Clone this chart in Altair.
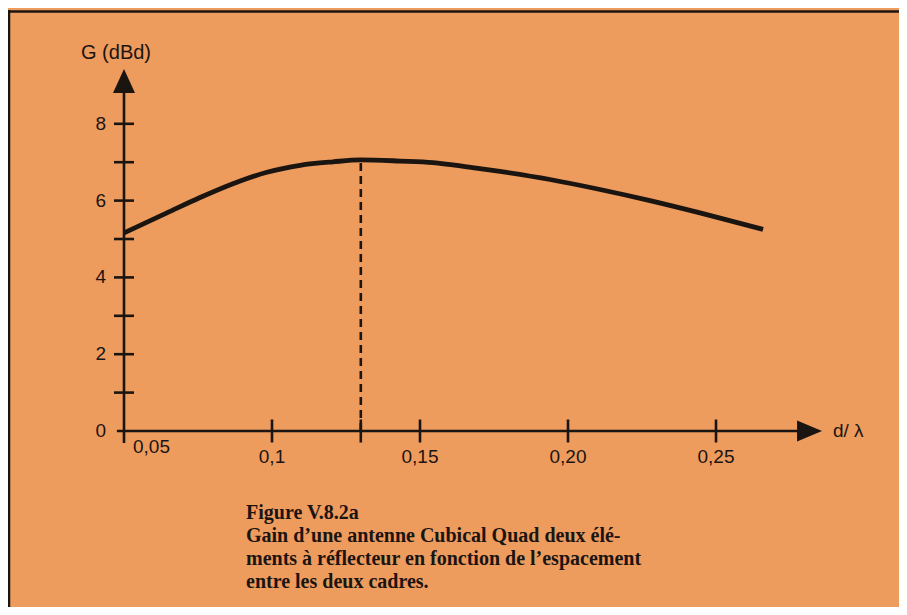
import altair as alt
import pandas as pd

# ---- data ----
curve_x = [0.05, 0.0645, 0.0757, 0.0868, 0.0983, 0.1095, 0.1206, 0.13, 0.1432,
           0.1544, 0.1659, 0.177, 0.1939, 0.2108, 0.2277, 0.2446, 0.2659]
curve_y = [5.16, 5.68, 6.08, 6.44, 6.74, 6.92, 7.01, 7.06, 7.03,
           6.99, 6.88, 6.76, 6.55, 6.29, 6.00, 5.68, 5.25]

peak_x = [0.13]
peak_y = [7.06]

x_tick_values = [0.1, 0.13, 0.15, 0.2, 0.25]
x_label_values = [0.1, 0.15, 0.2, 0.25]
x_label_texts = ["0,1", "0,15", "0,20", "0,25"]
first_x_label = ["0,05"]
y_tick_values = [1, 2, 3, 4, 5, 6, 7, 8]
y_label_values = [0, 2, 4, 6, 8]
y_label_texts = ["0", "2", "4", "6", "8"]

x_axis_span = [0.0476, 0.28]
y_axis_span = [-0.31, 9.1]
x_arrow = [0.2816]
y_arrow = [9.115]

y_title = ["G (dBd)"]
y_title_pos = [9.84]
x_title = ["d/ λ"]
x_title_pos = [0.2895]

caption = [
    "Figure V.8.2a",
    "Gain d\u2019une antenne Cubical Quad deux élé-",
    "ments à réflecteur en fonction de l\u2019espacement",
    "entre les deux cadres.",
]

# ---- styling ----
INK = "#1b1511"
BG = "#EE9B5E"
SANS = "Liberation Sans"
SERIF = "Liberation Serif"

xs = alt.Scale(domain=[0.05, 0.31182], nice=False, zero=False)
ys = alt.Scale(domain=[0, 10.964], nice=False, zero=False)


def X(field):
    return alt.X(field, type="quantitative", scale=xs, axis=None)


def Y(field):
    return alt.Y(field, type="quantitative", scale=ys, axis=None)


curve_df = pd.DataFrame({"x": curve_x, "y": curve_y})
curve = alt.Chart(curve_df).mark_line(
    color=INK, strokeWidth=4.8, interpolate="monotone", strokeCap="butt"
).encode(x=X("x"), y=Y("y"))

dash = alt.Chart(pd.DataFrame({"x": peak_x, "y0": [0], "y1": peak_y})).mark_rule(
    color=INK, strokeWidth=2.6, strokeDash=[8, 5]
).encode(x=X("x"), y=Y("y0"), y2="y1")

xaxis = alt.Chart(pd.DataFrame({"a": [x_axis_span[0]], "b": [x_axis_span[1]], "y": [0]})).mark_rule(
    color=INK, strokeWidth=2.6
).encode(x=X("a"), x2="b", y=Y("y"))

yaxis = alt.Chart(pd.DataFrame({"x": [0.05], "a": [y_axis_span[0]], "b": [y_axis_span[1]]})).mark_rule(
    color=INK, strokeWidth=2.6
).encode(x=X("x"), y=Y("a"), y2="b")

xarrow = alt.Chart(pd.DataFrame({"x": x_arrow, "y": [0]})).mark_point(
    shape="M -1 -0.84 L 1 0 L -1 0.84 Z", filled=True, size=625, opacity=1, color=INK
).encode(x=X("x"), y=Y("y"))

yarrow = alt.Chart(pd.DataFrame({"x": [0.05], "y": y_arrow})).mark_point(
    shape="M -0.917 1 L 0 -1 L 0.917 1 Z", filled=True, size=576, opacity=1, color=INK
).encode(x=X("x"), y=Y("y"))

xticks = alt.Chart(pd.DataFrame({"x": x_tick_values, "y": [0] * len(x_tick_values)})).mark_tick(
    orient="vertical", size=23, thickness=2.6, color=INK, opacity=1
).encode(x=X("x"), y=Y("y"))

yticks = alt.Chart(pd.DataFrame({"x": [0.05] * len(y_tick_values), "y": y_tick_values})).mark_tick(
    orient="horizontal", size=20, thickness=2.6, color=INK, opacity=1
).encode(x=X("x"), y=Y("y"))

xlabels = alt.Chart(pd.DataFrame({"x": x_label_values, "y": [0] * 4, "t": x_label_texts})).mark_text(
    font=SANS, fontSize=19, color=INK, align="center", baseline="middle", dy=26
).encode(x=X("x"), y=Y("y"), text="t:N")

xlabel0 = alt.Chart(pd.DataFrame({"x": [0.05], "y": [0], "t": first_x_label})).mark_text(
    font=SANS, fontSize=19, color=INK, align="left", baseline="middle", dx=9, dy=16
).encode(x=X("x"), y=Y("y"), text="t:N")

ylabels = alt.Chart(pd.DataFrame({"x": [0.05] * 5, "y": y_label_values, "t": y_label_texts})).mark_text(
    font=SANS, fontSize=19, color=INK, align="right", baseline="middle", dx=-18
).encode(x=X("x"), y=Y("y"), text="t:N")

ytitle = alt.Chart(pd.DataFrame({"x": [0.05], "y": y_title_pos, "t": y_title})).mark_text(
    font=SANS, fontSize=20, color=INK, align="center", baseline="middle", dx=-8
).encode(x=X("x"), y=Y("y"), text="t:N")

xtitle = alt.Chart(pd.DataFrame({"x": x_title_pos, "y": [0], "t": x_title})).mark_text(
    font=SANS, fontSize=19, color=INK, align="left", baseline="middle"
).encode(x=X("x"), y=Y("y"), text="t:N")

one = pd.DataFrame({"a": [0]})
cap = alt.Chart(one).mark_text(
    font=SERIF, fontSize=20, fontWeight="bold", color=INK, align="left",
    baseline="alphabetic", lineHeight=23, text=caption
).encode(x=alt.value(122), y=alt.value(509))

border_top = alt.Chart(one).mark_rule(color=INK, strokeWidth=2.5).encode(
    x=alt.value(-116), x2=alt.value(780), y=alt.value(1.5)
)
border_left = alt.Chart(one).mark_rule(color=INK, strokeWidth=2.5).encode(
    x=alt.value(-115), y=alt.value(0), y2=alt.value(600)
)

chart = alt.layer(
    border_top, border_left,
    dash, xaxis, yaxis, xticks, yticks, xarrow, yarrow, curve,
    xlabels, xlabel0, ylabels, ytitle, xtitle, cap
).properties(
    width=775, height=421,
    padding={"left": 116, "top": 2, "right": 0, "bottom": 176},
    autosize=alt.AutoSizeParams(type="none"),
    background=BG,
).configure_view(stroke=None)

chart.save("out.html", embed_options={"renderer": "svg", "actions": False})
